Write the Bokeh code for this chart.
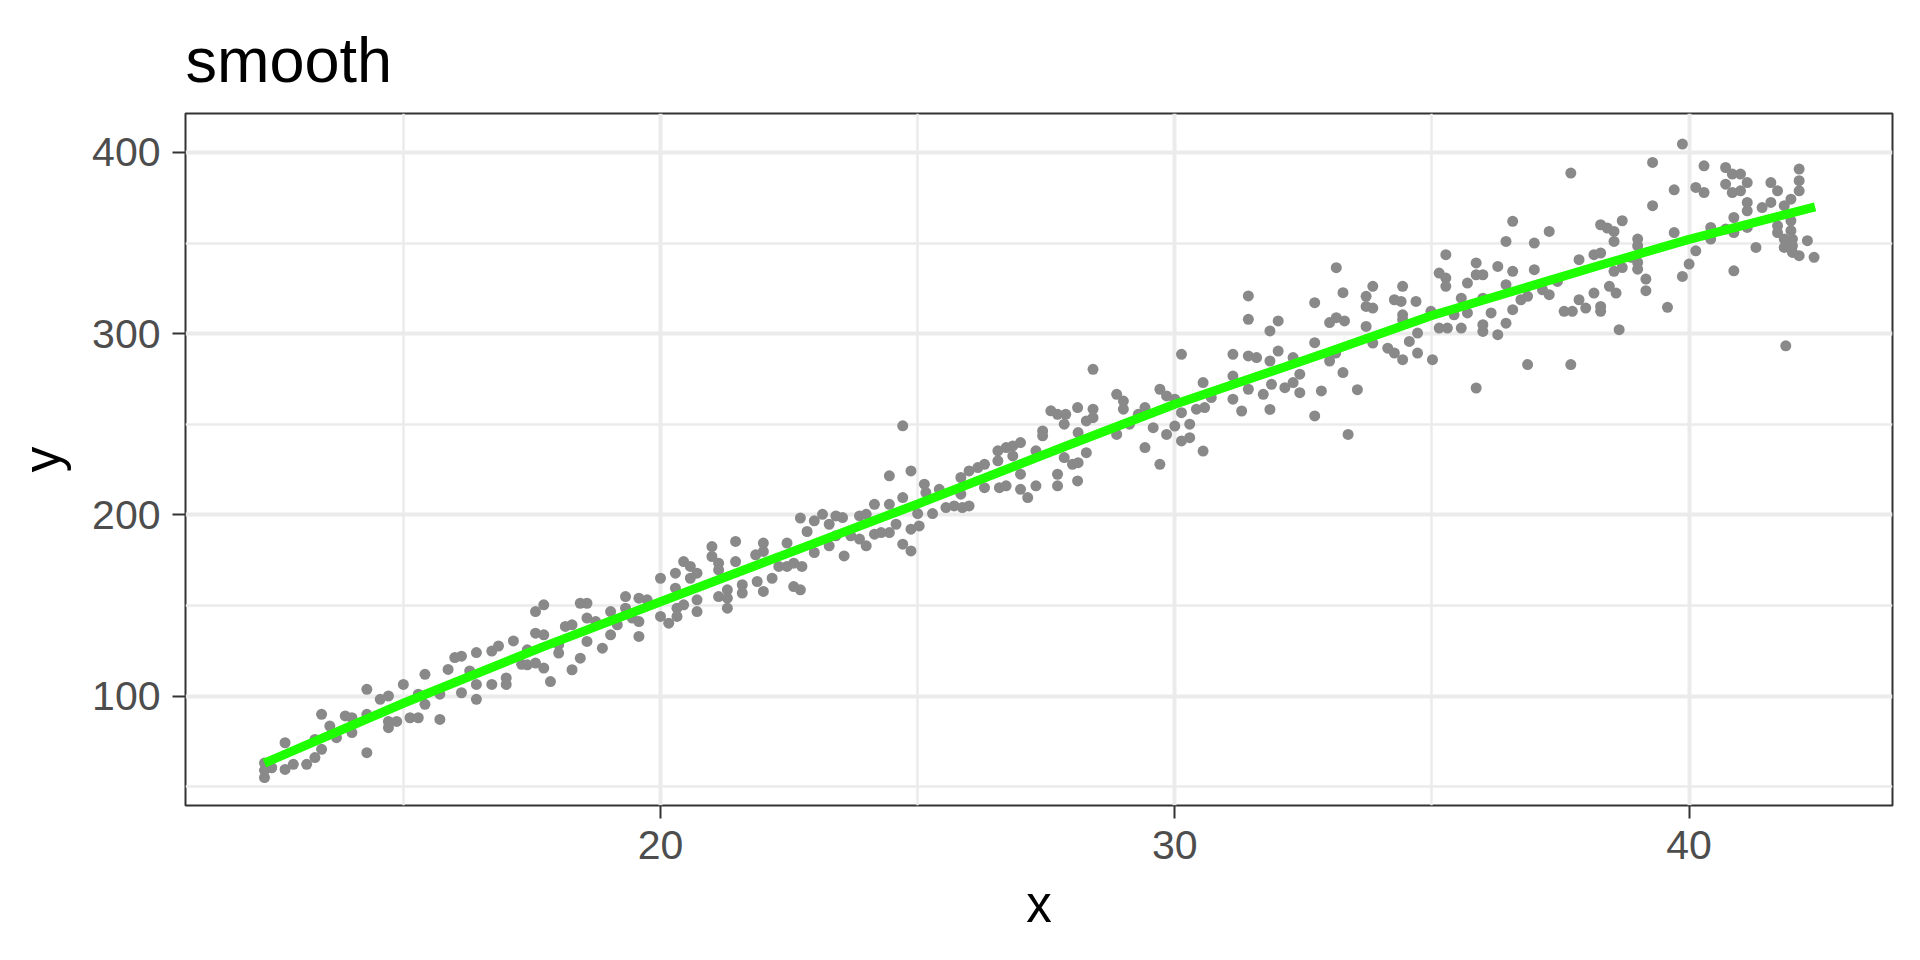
from bokeh.plotting import figure
from bokeh.models import Range1d, FixedTicker
from bokeh.embed import file_html
from bokeh.resources import INLINE

# ---- data ----
pt_x = [
 12.3,12.3,12.3,12.44,12.7,12.7,12.86,13.12,13.28,13.28,13.41,13.41,13.57,13.7,13.87,14.0,14.0,14.29,14.29,14.29,
 14.55,14.71,14.71,14.71,14.87,15.0,15.13,15.29,15.29,15.42,15.42,15.71,15.71,15.87,16.0,16.13,16.13,16.29,16.42,16.42,
 16.42,16.72,16.85,16.72,17.0,17.0,17.14,17.3,
 17.41,17.41,17.57,17.73,17.57,17.73,17.57,17.73,17.86,18.02,18.02,18.15,18.28,18.28,18.44,18.44,18.57,18.57,18.57,18.74,
 18.87,19.03,19.03,19.16,19.32,19.32,19.45,19.58,19.58,19.58,19.74,20.0,20.0,20.16,20.29,20.29,20.32,20.32,20.45,20.58,
 20.58,20.71,20.45,20.71,20.71,21.0,21.0,21.13,21.13,21.13,21.3,21.3,21.3,21.46,21.46,21.59,21.59,21.85,22.0,22.0,
 21.88,22.0,22.17,22.3,22.46,22.46,22.59,22.72,22.59,22.75,22.72,22.85,
 22.99,23.15,22.99,23.28,23.41,23.54,23.28,23.41,23.57,23.7,23.87,24.0,23.87,24.0,24.16,24.16,24.29,24.45,24.45,24.45,
 24.58,24.71,24.71,24.71,24.87,24.87,24.87,25.0,25.03,25.13,25.16,25.29,25.42,25.55,25.71,25.84,25.84,25.87,26.0,26.0,
 26.17,26.3,26.3,26.56,26.56,26.59,26.72,26.85,27.0,26.72,26.85,27.0,27.0,27.14,27.3,27.3,27.43,27.43,27.59,27.72,
 27.88,27.72,27.72,27.85,27.85,28.01,28.11,28.11,
 28.12,28.12,28.28,28.28,28.41,28.41,28.41,28.87,28.87,29.0,29.0,29.12,29.29,29.42,29.42,29.58,29.71,29.71,29.84,30.0,
 29.84,30.0,30.13,30.13,30.13,30.29,30.29,30.42,30.58,30.55,30.55,30.71,31.13,31.13,31.13,31.3,31.43,31.43,31.43,31.59,
 31.43,31.72,31.85,32.01,31.85,31.85,31.88,32.01,32.14,32.3,32.3,32.43,32.43,32.72,32.72,32.72,32.85,33.01,33.14,33.3,
 33.01,33.14,33.27,33.27,33.37,
 33.13,33.55,33.72,33.72,33.85,33.72,33.85,33.85,34.14,34.27,34.43,34.27,34.4,34.43,34.43,34.43,34.56,34.72,34.69,34.72,
 34.98,35.01,35.14,35.27,35.27,35.27,35.14,35.3,35.43,35.57,35.57,35.69,35.86,35.99,35.69,35.86,35.86,35.99,35.99,35.99,
 36.15,36.28,36.28,36.44,36.44,36.44,36.57,36.57,36.57,36.73,36.86,36.86,36.99,36.99,37.15,37.28,37.28,37.44,37.57,37.73,
 37.7,37.7,37.86,37.86,37.99,38.15,38.28,38.15,38.28,38.41,38.54,38.28,38.28,38.45,38.54,38.54,38.58,38.64,
 38.7,38.7,38.87,39.0,39.0,39.0,39.0,39.16,39.16,39.29,39.29,39.58,39.71,39.71,39.87,39.87,40.0,40.13,40.13,40.29,
 40.29,40.42,40.42,40.71,40.84,41.0,40.71,40.84,41.0,41.13,40.71,40.87,40.87,40.87,41.13,41.13,41.13,41.3,41.42,41.59,
 41.59,41.72,41.72,41.72,41.85,41.98,42.14,42.14,42.14,41.85,41.85,41.98,41.98,42.01,42.01,42.01,42.14,41.88,42.3,42.43,
]
pt_y = [
 63,59,55,60.4,74.2,59.5,62.3,62.3,76,66,89.9,70.6,83.4,77,89,88,79.8,103.7,68.7,89.9,
 98.2,100,82.5,86,86,106.4,88,101,88,112,95.4,87.1,101,114.7,121.2,122,101.8,113.8,124,106.4,
 98.2,124.8,127.6,106.4,110,106.4,130.4,117.5,
 125.5,117.2,118.2,115.4,146.6,150.3,134.7,133.8,108,128.3,123.7,138.4,139.3,114.5,120.9,151.2,151.2,143,130.1,141.1,
 126.4,146.6,133.8,139.3,154.9,148.5,143,141.1,154,132.9,153.1,143.9,165,140.2,167.8,159.5,148.5,143.9,174.2,171.5,
 165,167.8,150.3,153.1,146.6,182.5,177,173.3,169.6,154.9,158.6,154,148.5,185.3,174.2,161.4,156.8,177.9,184.4,179.8,
 163.2,157.7,165,171.5,184.4,171.5,160.4,158.6,173.3,171.5,198.2,190.8,
 196.7,200.3,179.2,194.8,199.4,198.5,182.9,188.4,177.3,188.4,199.4,200.3,186.6,182.9,205.8,189.3,190.2,190.2,205.8,221.5,
 194.8,249.1,209.5,183.8,224.2,180.1,192.1,200.7,193.9,216.9,212.3,200.7,214.1,204,204.9,220.6,211.4,204,224.2,204.9,
 226.1,227.9,215,235.3,229.8,215,237.1,238,239.9,216,232.5,222.4,214.1,209.5,235.3,216,246.3,243.6,257.4,255.5,
 255.5,222.4,216,250,231.6,227.9,259.2,218.7,
 245.4,228.8,251.8,234.3,280.3,258.3,253.6,266.5,244.4,262.8,258.3,250,255.5,259.2,237.1,248.1,269.3,227.9,265.6,263.8,
 244.4,249,288.6,256.4,240.8,250,242.6,258.3,259.2,273,235.2,264.7,288.6,276.6,263.8,257.3,320.8,307.9,287.7,286.8,
 269.3,266.5,301.5,307,284.9,258.2,272,290.4,270.2,286.8,273,277.6,267.4,317.1,295,254.6,268.4,306.1,308.8,307,
 284.9,336.4,322.6,278.5,244.4,
 289.3,269.1,320.6,315,314.1,304,294.8,326.1,292,289.3,285.6,318.7,317.8,326.1,310.4,307.7,295.7,300.3,317.8,289.3,
 312.3,285.6,333.4,330.7,326.1,343.6,303.1,303.1,310.4,319.6,303.1,327.9,332.5,332.5,311.4,339,270,319.6,304.9,301.2,
 311.4,337.1,299.4,327,305.8,350.9,362,334.4,313.2,318.7,320.6,282.9,350,335.3,324.2,356.4,321.5,328.8,312.3,312.3,
 388.6,282.9,340.8,318.7,314.1,343.6,344.5,322.4,360.1,358.3,356.4,315,312.3,326.1,350.9,334.4,322.4,302.2,
 362.3,336.5,342.1,339.3,335.6,352.2,348.5,330.1,323.7,394.5,370.6,314.5,379.4,355.8,404.6,331.6,338.4,345.7,380.7,377.9,
 392.6,358.6,352.2,391.7,388.1,388.1,382.5,377.9,378.8,383.4,357.7,355.8,364.1,334.7,372.4,367.8,358.6,347.6,369.6,372.4,
 383.4,378.8,359.5,355.8,370.6,374.2,378.8,390.8,384.4,352.2,347.6,362.3,356.8,352.2,348.5,344.8,343,293.3,351.3,342.1,
]

smooth_x = [12.3, 15, 17.7, 20, 22.5, 25, 27.8, 30, 33, 35, 38.3, 40, 42.45]
smooth_y = [63, 96, 127, 152, 179, 206, 237, 261, 290, 310, 338, 352, 370]

x_ticks = [20, 30, 40]
x_minor = [15, 25, 35]
y_ticks = [100, 200, 300, 400]
y_minor = [50, 150, 250, 350]

FONT = "Liberation Sans"

p = figure(width=1912, height=952, output_backend="svg", toolbar_location=None,
           x_range=Range1d(10.764, 43.955), y_range=Range1d(39.57, 421.5),
           min_border_left=185, min_border_right=20, min_border_top=113, min_border_bottom=147,
           title="smooth", background_fill_color="white", border_fill_color="white")

p.title.text_font = FONT
p.title.text_font_size = "63px"
p.title.text_font_style = "normal"
p.title.text_color = "black"
p.title.align = "left"
p.title.offset = 0
p.title.text_line_height = 1.0
p.title.standoff = 38

p.outline_line_color = "#333333"
p.outline_line_width = 2

p.xaxis.ticker = FixedTicker(ticks=x_ticks, minor_ticks=x_minor)
p.yaxis.ticker = FixedTicker(ticks=y_ticks, minor_ticks=y_minor)

for g in (p.xgrid, p.ygrid):
    g.grid_line_color = "#EBEBEB"
    g.grid_line_width = 4
    g.minor_grid_line_color = "#EBEBEB"
    g.minor_grid_line_width = 2.5

for ax in (p.xaxis, p.yaxis):
    ax.axis_line_color = None
    ax.major_tick_line_color = "#333333"
    ax.major_tick_line_width = 2
    ax.major_tick_out = 13
    ax.major_tick_in = 0
    ax.minor_tick_line_color = None
    ax.major_label_text_font = FONT
    ax.major_label_text_font_size = "41px"
    ax.major_label_text_color = "#4D4D4D"
    ax.axis_label_text_font = FONT
    ax.axis_label_text_font_size = "51px"
    ax.axis_label_text_font_style = "normal"
    ax.axis_label_text_color = "black"

p.xaxis.axis_label = "x"
p.yaxis.axis_label = "y"
p.xaxis.major_label_standoff = 12
p.yaxis.major_label_standoff = 12
p.xaxis.axis_label_standoff = 14
p.yaxis.axis_label_standoff = 18

p.scatter(pt_x, pt_y, size=11, color="#898989", line_color=None)
p.line(smooth_x, smooth_y, line_width=9, color="#1EFF00")

open("out.html", "w").write(file_html(p, INLINE))
